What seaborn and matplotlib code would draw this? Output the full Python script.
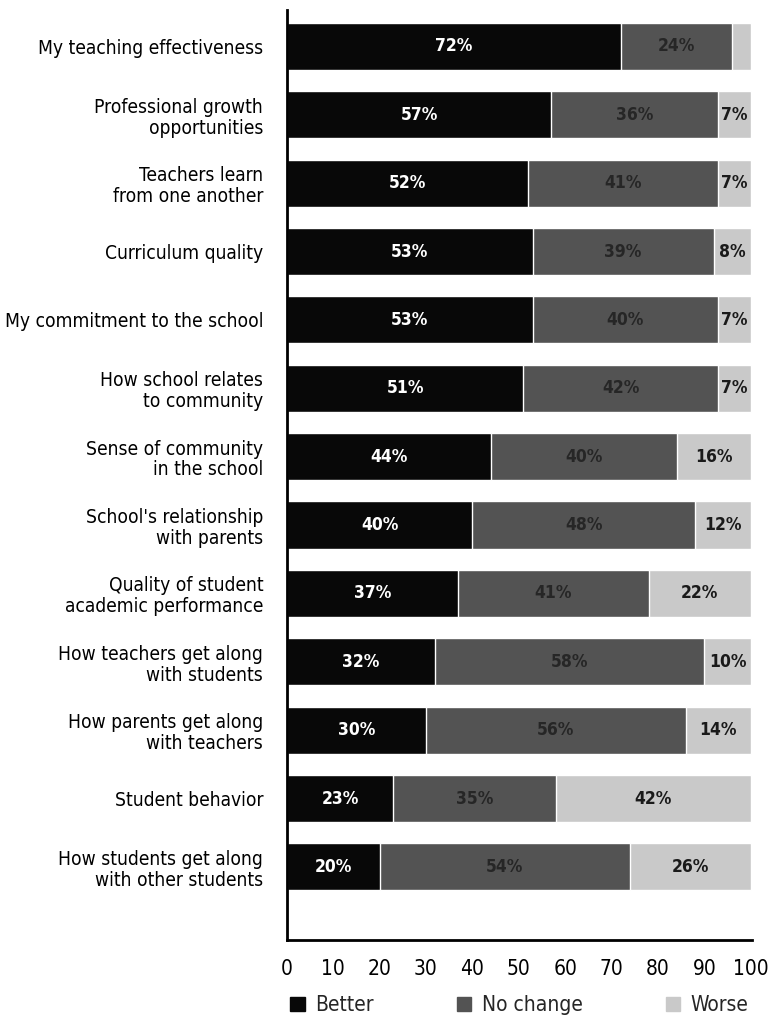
import numpy as np
import pandas as pd
import seaborn as sns
import matplotlib.pyplot as plt
from matplotlib import font_manager
from matplotlib.patches import Patch

categories = [
    "My teaching effectiveness",
    "Professional growth\nopportunities",
    "Teachers learn\nfrom one another",
    "Curriculum quality",
    "My commitment to the school",
    "How school relates\nto community",
    "Sense of community\nin the school",
    "School's relationship\nwith parents",
    "Quality of student\nacademic performance",
    "How teachers get along\nwith students",
    "How parents get along\nwith teachers",
    "Student behavior",
    "How students get along\nwith other students",
]
better = [72, 57, 52, 53, 53, 51, 44, 40, 37, 32, 30, 23, 20]
no_change = [24, 36, 41, 39, 40, 42, 40, 48, 41, 58, 56, 35, 54]
worse = [4, 7, 7, 8, 7, 7, 16, 12, 22, 10, 14, 42, 26]

sns.set_style("white")
plt.rcParams['font.family'] = ['DejaVu Sans']
# use the condensed DejaVu if the system has it
has_cond = any("Condensed" in f.fname and "DejaVuSans" in f.fname
               for f in font_manager.fontManager.ttflist)
plt.rcParams['font.stretch'] = 'condensed' if has_cond else 'normal'

df = pd.DataFrame({"cat": categories, "better": better,
                   "no_change": no_change, "worse": worse})
df["c2"] = df["better"] + df["no_change"]
df["c3"] = df["c2"] + df["worse"]

col_better = "#080808"
col_nochange = "#535353"
col_worse = "#c9c9c9"

fig = plt.figure(figsize=(7.73, 10.19), dpi=100)
ax = fig.add_axes([0.371, 0.0775, 0.602, 0.9125])

w = 0.69
sns.barplot(data=df, x="c3", y="cat", color=col_worse, width=w, ax=ax, saturation=1)
sns.barplot(data=df, x="c2", y="cat", color=col_nochange, width=w, ax=ax, saturation=1)
sns.barplot(data=df, x="better", y="cat", color=col_better, width=w, ax=ax, saturation=1)

lab_size = 12.5 if has_cond else 11
for i, row in df.iterrows():
    ax.text(row["better"] / 2, i, f"{row['better']}%", color="white",
            ha="center", va="center", fontsize=lab_size, fontweight="bold")
    ax.text(row["better"] + row["no_change"] / 2, i, f"{row['no_change']}%",
            color="#262626", ha="center", va="center", fontsize=lab_size, fontweight="bold")
    if row["worse"] >= 5:
        ax.text(row["c2"] + row["worse"] / 2, i, f"{row['worse']}%",
                color="#1a1a1a", ha="center", va="center", fontsize=lab_size, fontweight="bold")

ax.set_xlim(0, 100.3)
ax.set_ylim(12 + 1.07, -0.53)
ax.set_xticks(range(0, 101, 10))
ax.set_xlabel("")
ax.set_ylabel("")
ax.tick_params(axis="x", labelsize=15 if has_cond else 14, length=0, pad=14, colors="black")
ax.tick_params(axis="y", labelsize=13.8 if has_cond else 12.5, length=0, pad=17, colors="black")
for lab in ax.get_yticklabels():
    lab.set_multialignment("right")
    lab.set_linespacing(1.12)

sns.despine(ax=ax, top=True, right=True)
ax.spines["left"].set_linewidth(2)
ax.spines["bottom"].set_linewidth(2)
ax.spines["left"].set_color("black")
ax.spines["bottom"].set_color("black")

handles = [Patch(color=col_better, label="Better"),
           Patch(color=col_nochange, label="No change"),
           Patch(color=col_worse, label="Worse")]
ax.legend(handles=handles, ncol=3, mode="expand", loc="lower left",
          bbox_to_anchor=(-0.01, -0.09, 1.02, 0.02), frameon=False,
          fontsize=15 if has_cond else 14, handlelength=0.7, handleheight=0.7,
          handletextpad=0.5, borderaxespad=0)

fig.savefig("out.png", dpi=100)
